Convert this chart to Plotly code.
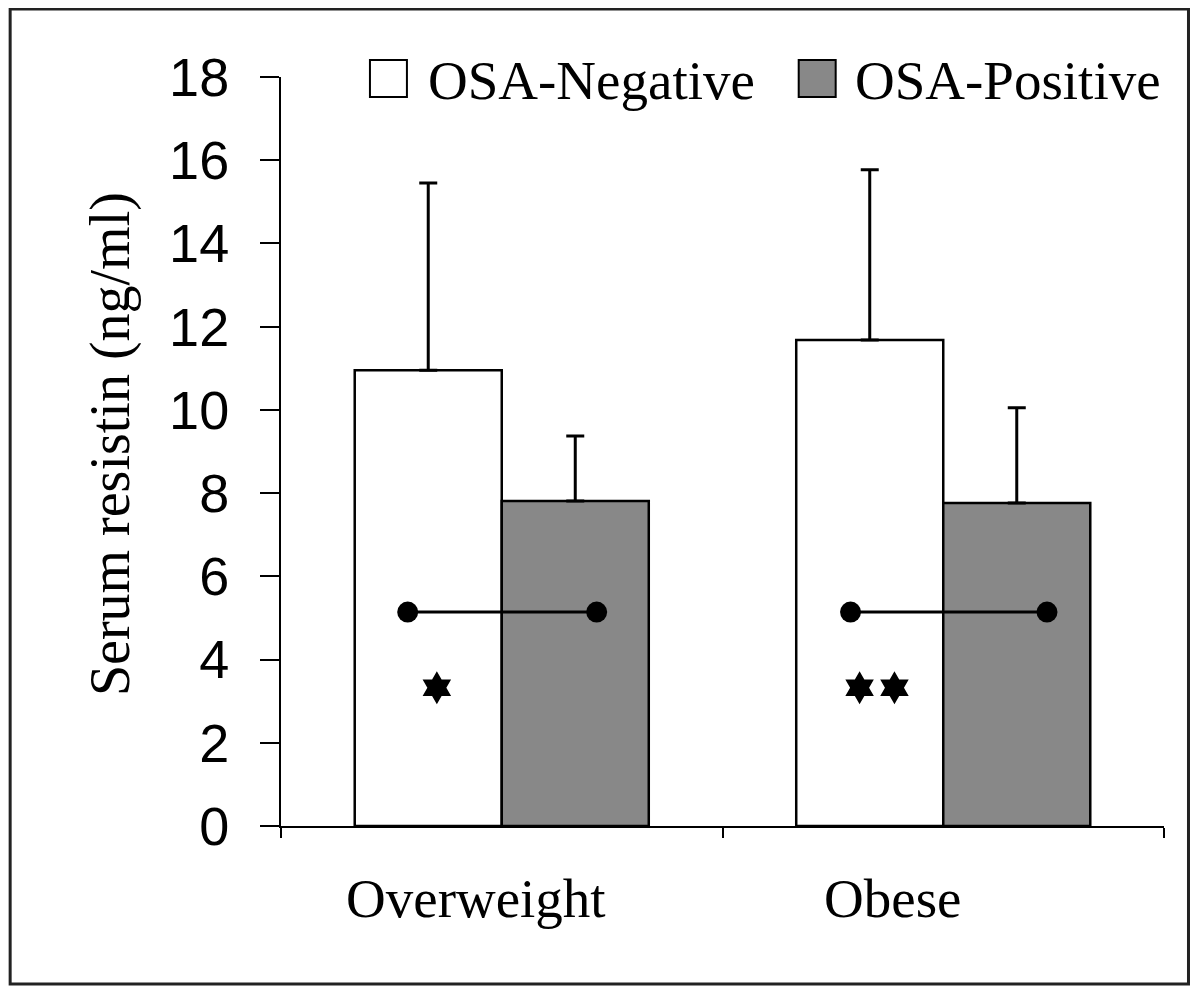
import plotly.graph_objects as go

# ---- data ----
categories = ["Overweight", "Obese"]
osa_negative = [10.95, 11.68]
osa_negative_err = [4.50, 4.09]
osa_positive = [7.81, 7.76]
osa_positive_err = [1.56, 2.29]
sig_level = [5.14, 5.14]
sig_star_count = [1, 2]
y_ticks = [0, 2, 4, 6, 8, 10, 12, 14, 16, 18]

# ---- geometry (reference page pixels; page body has an 8px margin) ----
OFF = 8
W, H = 1200, 996
AX_L, AX_R, AX_T, AX_B = 281, 1164.5, 77, 826   # plot area on the page
L = AX_L - OFF
T = AX_T - OFF
R = W - (AX_R - OFF)
B = H - (AX_B - OFF)
PW, PH = AX_R - AX_L, AX_B - AX_T


def px(x):
    return (x - AX_L) / PW


def py(y):
    return (AX_B - y) / PH


SERIF = "Liberation Serif"
SANS = "Liberation Sans"
xpos = list(range(len(categories)))

fig = go.Figure()
fig.add_trace(go.Bar(
    x=xpos, y=osa_negative, name="OSA-Negative",
    marker=dict(color="white", line=dict(color="black", width=2.5)),
    error_y=dict(type="data", symmetric=False, array=osa_negative_err,
                 arrayminus=[0] * len(categories), color="black",
                 thickness=3, width=9),
))
fig.add_trace(go.Bar(
    x=xpos, y=osa_positive, name="OSA-Positive",
    marker=dict(color="#888888", line=dict(color="black", width=2.5)),
    error_y=dict(type="data", symmetric=False, array=osa_positive_err,
                 arrayminus=[0] * len(categories), color="black",
                 thickness=3, width=9),
))

# significance brackets and stars
sig_ends = [(-0.213, 0.215), (-0.21, 0.235)]
star_centre = [-0.147, -0.15]
star_step = 0.079
for i, (a, b) in enumerate(sig_ends):
    fig.add_trace(go.Scatter(
        x=[xpos[i] + a, xpos[i] + b], y=[sig_level[i], sig_level[i]],
        mode="lines+markers", line=dict(color="black", width=3),
        marker=dict(color="black", size=21), showlegend=False,
        hoverinfo="skip", cliponaxis=False,
    ))
    n = sig_star_count[i]
    xs = [xpos[i] + star_centre[i] + (k - (n - 1) / 2) * star_step
          for k in range(n)]
    fig.add_trace(go.Scatter(
        x=xs, y=[sig_level[i] - 1.82] * n, mode="markers",
        marker=dict(symbol="hexagram", color="black", size=25,
                    line=dict(width=0)),
        showlegend=False, hoverinfo="skip",
    ))

# category labels (slightly left of centre as in the reference)
label_shift = [-0.058, -0.114]
for i, c in enumerate(categories):
    fig.add_annotation(
        x=xpos[i] + label_shift[i], y=py(898), xref="x", yref="paper",
        text=c, showarrow=False, xanchor="center", yanchor="middle",
        font=dict(family=SERIF, size=55, color="black"),
    )

# y-axis title
fig.add_annotation(
    x=px(110), y=py(444), xref="paper", yref="paper",
    text="Serum resistin (ng/ml)", textangle=-90, showarrow=False,
    xanchor="center", yanchor="middle",
    font=dict(family=SERIF, size=56, color="black"),
)

# manual legend
legend_items = [("OSA-Negative", "white", 370, 426),
                ("OSA-Positive", "#888888", 799, 853)]
for name, col, sx, tx in legend_items:
    fig.add_shape(type="rect", xref="paper", yref="paper",
                  x0=px(sx), x1=px(sx + 37), y0=py(97), y1=py(60),
                  fillcolor=col, line=dict(color="black", width=2))
    fig.add_annotation(
        x=px(tx), y=py(80), xref="paper", yref="paper", text=name,
        showarrow=False, xanchor="left", yanchor="middle",
        font=dict(family=SERIF, size=55, color="black"),
    )

# outer frame
fig.add_shape(type="rect", xref="paper", yref="paper",
              x0=px(10), x1=px(1189), y0=py(984), y1=py(9),
              line=dict(color="#222222", width=3), fillcolor="rgba(0,0,0,0)")

fig.update_layout(
    width=W, height=H,
    margin=dict(l=L, r=R, t=T, b=B, pad=0),
    paper_bgcolor="white", plot_bgcolor="white",
    barmode="group", bargap=0.334, bargroupgap=0,
    showlegend=False,
    xaxis=dict(range=[-0.5, len(categories) - 0.5],
               tickvals=[-0.5, 0.5, 1.5], showticklabels=False,
               ticks="outside", ticklen=10, tickwidth=2, tickcolor="black",
               showline=True, linecolor="black", linewidth=2,
               showgrid=False, zeroline=False, fixedrange=True),
    yaxis=dict(range=[0, 18], tickvals=y_ticks,
               ticks="outside", ticklen=19, tickwidth=2, tickcolor="black",
               showline=True, linecolor="black", linewidth=2,
               showgrid=False, zeroline=False, ticklabelstandoff=20,
               tickfont=dict(family=SANS, size=54, color="black")),
)

fig.write_html("out.html")
